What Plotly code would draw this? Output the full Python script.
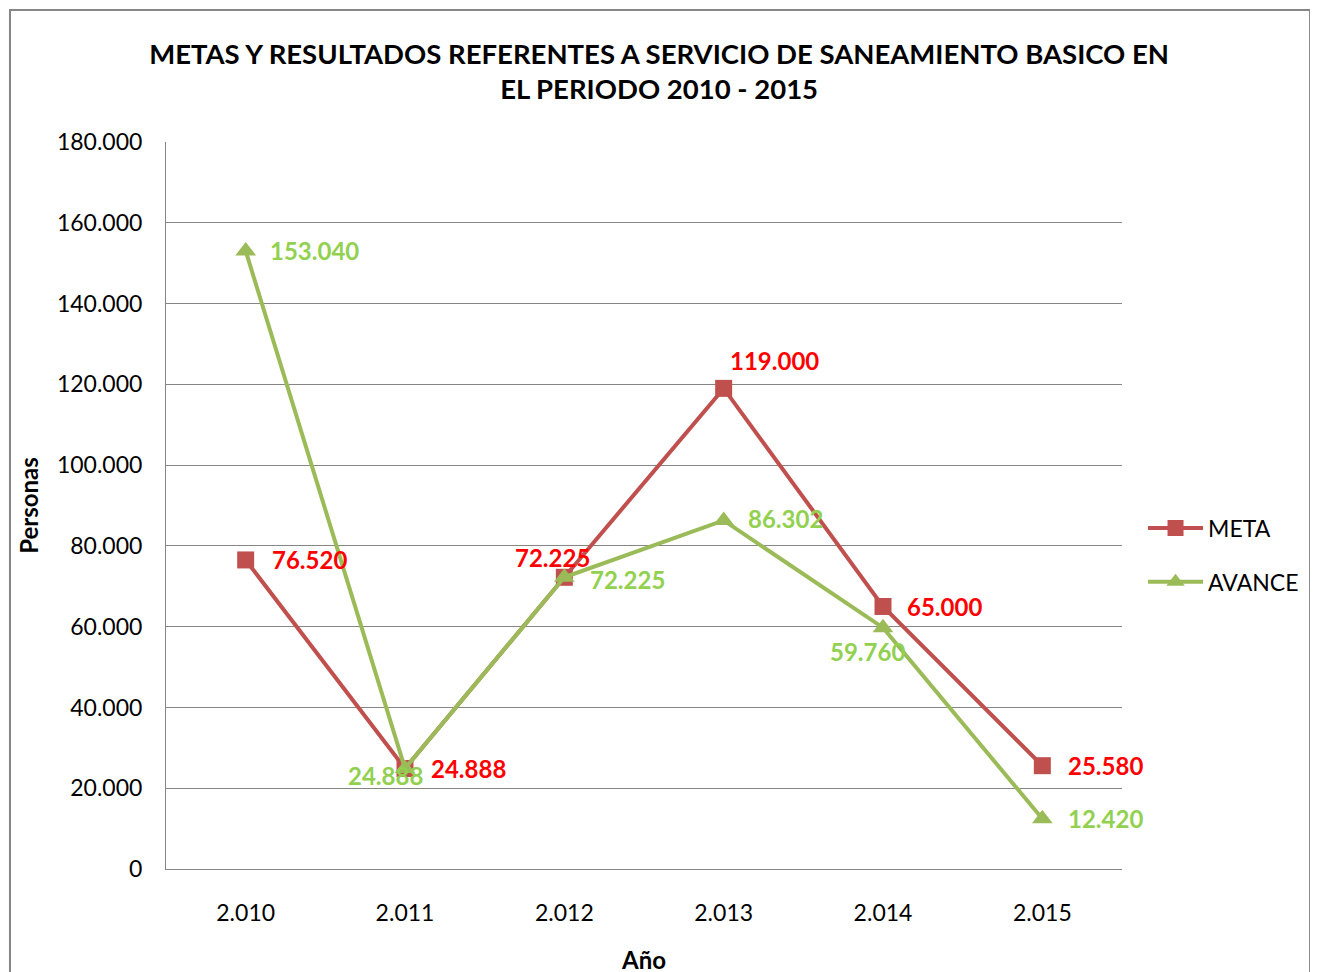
import plotly.graph_objects as go

years = ["2.010", "2.011", "2.012", "2.013", "2.014", "2.015"]
meta = [76520, 24888, 72225, 119000, 65000, 25580]
avance = [153040, 24888, 72225, 86302, 59760, 12420]
y_ticks = [0, 20000, 40000, 60000, 80000, 100000, 120000, 140000, 160000, 180000]
y_tick_labels = ["0", "20.000", "40.000", "60.000", "80.000", "100.000", "120.000", "140.000", "160.000", "180.000"]

def fmt(v):
    return f"{v:,}".replace(",", ".")

FONT = "Lato"
RED_LINE = "#C0504D"
GREEN_LINE = "#9BBB59"
RED_TXT = "#FF0000"
GREEN_TXT = "#92D050"

fig = go.Figure()
fig.add_trace(go.Scatter(x=years, y=meta, name="META", mode="lines+markers", legendgroup="m",
                         line=dict(color=RED_LINE, width=4),
                         marker=dict(symbol="square", size=17, color=RED_LINE)))
fig.add_trace(go.Scatter(x=years, y=avance, name="AVANCE", mode="lines+markers", legendgroup="a",
                         line=dict(color=GREEN_LINE, width=4),
                         marker=dict(symbol="triangle-up", size=18, color=GREEN_LINE)))

# label placements: (xanchor, xshift, yshift)
meta_pos = [("left", 24, 0), ("left", 24, 0), ("center", -12, 20), ("left", 4, 28), ("left", 22, 0), ("left", 24, 0)]
avance_pos = [("left", 22, 0), ("center", -20, -7), ("left", 24, -2), ("left", 22, 2), ("center", -16, -24), ("left", 24, 0)]

for i, (xa, xs, ys) in enumerate(meta_pos):
    fig.add_annotation(x=i, y=meta[i], text=fmt(meta[i]), showarrow=False,
                       xanchor=xa, yanchor="middle", xshift=xs, yshift=ys,
                       font=dict(family=FONT, size=24, color=RED_TXT, weight="bold"))
for i, (xa, xs, ys) in enumerate(avance_pos):
    fig.add_annotation(x=i, y=avance[i], text=fmt(avance[i]), showarrow=False,
                       xanchor=xa, yanchor="middle", xshift=xs, yshift=ys,
                       font=dict(family=FONT, size=24, color=GREEN_TXT, weight="bold"))

# chart border
fig.add_shape(type="rect", xref="paper", yref="paper", x0=-0.1632, x1=1.1967, y0=-0.16, y1=1.1816,
              line=dict(color="#868686", width=2), fillcolor="rgba(0,0,0,0)", layer="below")

fig.update_layout(
    width=1318, height=972,
    margin=dict(l=158, r=204, t=134, b=111),
    paper_bgcolor="white", plot_bgcolor="white",
    font=dict(family=FONT, size=23, color="#000000"),
    title=dict(text="<b>METAS Y RESULTADOS REFERENTES A SERVICIO DE SANEAMIENTO BASICO EN<br>EL PERIODO 2010 - 2015</b>",
               x=0.494, xanchor="center", y=0.9427, yanchor="top",
               font=dict(family=FONT, size=27.5, color="#000000")),
    showlegend=True,
    legend=dict(x=1.022, y=0.432, xanchor="left", yanchor="middle", traceorder="grouped",
                font=dict(family=FONT, size=23, color="#000000"),
                tracegroupgap=21, itemwidth=55, bgcolor="rgba(0,0,0,0)"),
    xaxis=dict(type="category", range=[-0.5, 5.5], showgrid=False, showline=True, automargin=False,
               linecolor="#868686", linewidth=1, ticks="", ticklabelstandoff=23,
               tickfont=dict(family=FONT, size=23),
               title=dict(text="<b>Año</b>", font=dict(family=FONT, size=24), standoff=27)),
    yaxis=dict(range=[0, 180000], tickvals=y_ticks, ticktext=y_tick_labels, automargin=False,
               showgrid=True, gridcolor="#868686", gridwidth=1, showline=True,
               linecolor="#868686", linewidth=1, zeroline=False, ticks="",
               ticklabelstandoff=18, tickfont=dict(family=FONT, size=23),
               title=dict(text="<b>Personas</b>", font=dict(family=FONT, size=24), standoff=11)),
)

fig.write_html("out.html")
